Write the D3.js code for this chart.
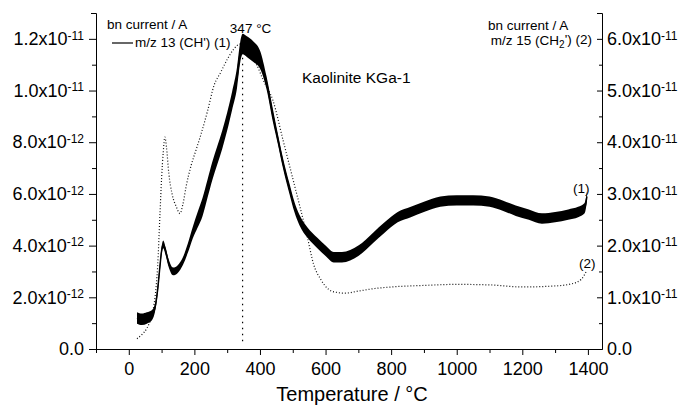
<!DOCTYPE html>
<html>
<head>
<meta charset="utf-8">
<script src="https://cdn.jsdelivr.net/npm/d3@7"></script>
<style>
  body { margin: 0; background: #fff; }
  text { font-family: "Liberation Sans", Arial, sans-serif; fill: #000; }
</style>
</head>
<body>
<svg id="chart" width="683" height="406"></svg>
<script>
// m/z 13 (CH') ion current, left axis, in units of 1e-12 A
const temps13 = [25, 40, 55, 70, 80, 88, 95, 100, 105, 112, 122, 135, 150, 165, 180, 195, 210, 225, 240, 255,
  270, 285, 300, 315, 330, 340, 347, 360, 380, 400, 420, 440, 455, 470, 490, 505, 520, 545, 575, 600,
  625, 650, 700, 745, 780, 820, 860, 900, 950, 1000, 1050, 1100, 1140, 1180, 1220, 1260, 1300, 1340, 1370, 1390, 1397];
const m13 = [1.2, 1.15, 1.2, 1.3, 1.6, 2.3, 3.2, 3.8, 4.05, 3.8, 3.3, 3.0, 3.1, 3.4, 3.9, 4.5, 5.0, 5.5, 6.2, 6.9,
  7.5, 8.1, 8.8, 9.6, 10.5, 11.5, 11.8, 11.7, 11.5, 11.2, 10.3, 9.0, 8.1, 7.2, 6.2, 5.5, 5.0, 4.5, 4.1, 3.8,
  3.55, 3.55, 3.8, 4.3, 4.7, 5.1, 5.3, 5.5, 5.7, 5.75, 5.75, 5.7, 5.55, 5.35, 5.2, 5.05, 5.1, 5.2, 5.3, 5.45, 5.9];
// half width of the noise band seen around the m/z 13 trace
const m13Noise = [0.22, 0.22, 0.22, 0.2, 0.15, 0.15, 0.15, 0.15, 0.15, 0.15, 0.15, 0.15, 0.15, 0.15, 0.18, 0.22, 0.3, 0.35, 0.35, 0.35,
  0.35, 0.35, 0.35, 0.35, 0.4, 0.4, 0.4, 0.4, 0.4, 0.35, 0.25, 0.25, 0.2, 0.2, 0.2, 0.2, 0.2, 0.2, 0.2, 0.2,
  0.2, 0.2, 0.2, 0.2, 0.2, 0.2, 0.2, 0.2, 0.2, 0.2, 0.2, 0.2, 0.2, 0.2, 0.2, 0.2, 0.2, 0.2, 0.2, 0.2, 0.2];

// m/z 15 (CH2') ion current, right axis, in units of 1e-11 A
const temps15 = [25, 40, 55, 70, 80, 88, 95, 100, 105, 110, 115, 122, 132, 145, 156, 165, 175, 190, 205, 220,
  240, 260, 280, 300, 320, 340, 355, 370, 390, 410, 440, 470, 500, 522, 545, 563, 585, 610, 630, 660,
  700, 750, 800, 900, 1000, 1100, 1200, 1300, 1350, 1380, 1395];
const m15 = [0.2, 0.28, 0.4, 0.65, 1.0, 1.6, 2.6, 3.3, 3.8, 4.1, 3.9, 3.4, 3.0, 2.75, 2.62, 2.8, 3.15, 3.55, 3.85, 4.15,
  4.6, 5.1, 5.35, 5.6, 5.8, 5.9, 5.8, 5.7, 5.5, 5.2, 4.8, 4.05, 3.3, 2.75, 2.15, 1.65, 1.35, 1.15, 1.1, 1.08,
  1.12, 1.17, 1.2, 1.23, 1.25, 1.24, 1.2, 1.22, 1.26, 1.35, 1.5];

const xTicks = [0, 200, 400, 600, 800, 1000, 1200, 1400];
const xMinor = [-100, 100, 300, 500, 700, 900, 1100, 1300];
const leftTicks = [0, 2, 4, 6, 8, 10, 12];          // x1e-12
const leftMinor = [1, 3, 5, 7, 9, 11];
const rightTicks = [0, 1, 2, 3, 4, 5, 6];           // x1e-11
const rightMinor = [0.5, 1.5, 2.5, 3.5, 4.5, 5.5];
const peakT = 347;

const svg = d3.select("#chart");
const margin = { left: 96, right: 81, top: 13, bottom: 57 };
const W = 683, H = 406;

const x = d3.scaleLinear().domain([-100, 1443]).range([margin.left, W - margin.right]);
const yL = d3.scaleLinear().domain([0, 13]).range([H - margin.bottom, margin.top]);
const yR = d3.scaleLinear().domain([0, 6.5]).range([H - margin.bottom, margin.top]);

// scientific label like 1.2x10^-11
function sciLabel(sel, baseExp) {
  sel.each(function (v) {
    const t = d3.select(this).text("");
    if (v === 0) { t.text("0.0"); return; }
    const e = Math.floor(Math.log10(v) + 1e-9);
    const mant = v / Math.pow(10, e);
    t.append("tspan").text(mant.toFixed(1) + "x10");
    t.append("tspan").attr("dy", "-0.45em").attr("font-size", "12px").text(String(e + baseExp));
  });
}

// x axis
const gx = svg.append("g").attr("transform", `translate(0,${H - margin.bottom})`);
gx.call(d3.axisBottom(x).tickValues(xTicks).tickFormat(d3.format("d"))
  .tickSize(6).tickSizeOuter(0).tickPadding(7));
gx.selectAll(".tick text").attr("font-size", "18px").attr("font-family", null);
gx.append("g").call(d3.axisBottom(x).tickValues(xMinor).tickSize(4).tickFormat(""))
  .select(".domain").remove();

// left axis
const gl = svg.append("g").attr("transform", `translate(${margin.left},0)`);
gl.call(d3.axisLeft(yL).tickValues(leftTicks).tickSize(7).tickSizeOuter(5).tickPadding(5));
gl.selectAll(".tick text").attr("font-size", "18px").attr("font-family", null).call(sciLabel, -12);
gl.append("g").call(d3.axisLeft(yL).tickValues(leftMinor).tickSize(4).tickFormat(""))
  .select(".domain").remove();

// right axis, ticks pointing inwards
const gr = svg.append("g").attr("transform", `translate(${W - margin.right},0)`);
gr.call(d3.axisRight(yR).tickValues(rightTicks).tickSizeInner(-5).tickSizeOuter(-5).tickPadding(5));
gr.selectAll(".tick text").attr("font-size", "18px").attr("font-family", null).call(sciLabel, -11);
gr.append("g").call(d3.axisRight(yR).tickValues(rightMinor).tickSize(-3).tickFormat(""))
  .select(".domain").remove();

svg.selectAll(".domain, .tick line").attr("stroke", "#000").attr("stroke-width", 1);

// vertical marker at the maximum
svg.append("line")
  .attr("x1", x(peakT)).attr("x2", x(peakT))
  .attr("y1", yL(0.3)).attr("y2", yL(12.1))
  .attr("stroke", "#000").attr("stroke-width", 1.2)
  .attr("stroke-dasharray", "1.5 4.5");

// m/z 15 dotted trace
const d15 = temps15.map((t, i) => ({ t: t, v: m15[i] }));
svg.append("path").datum(d15)
  .attr("fill", "none").attr("stroke", "#111").attr("stroke-width", 1.2)
  .attr("stroke-dasharray", "1 2")
  .attr("d", d3.line().x(d => x(d.t)).y(d => yR(d.v)).curve(d3.curveMonotoneX));

// m/z 13 noisy trace: band plus centre line
const d13 = temps13.map((t, i) => ({ t: t, v: m13[i], n: m13Noise[i] }));
svg.append("path").datum(d13)
  .attr("fill", "#000")
  .attr("d", d3.area().x(d => x(d.t)).y0(d => yL(d.v - d.n)).y1(d => yL(d.v + d.n)).curve(d3.curveMonotoneX));
svg.append("path").datum(d13)
  .attr("fill", "none").attr("stroke", "#000").attr("stroke-width", 1.5)
  .attr("d", d3.line().x(d => x(d.t)).y(d => yL(d.v)).curve(d3.curveMonotoneX));

// labels
svg.append("text").attr("x", (margin.left + W - margin.right) / 2 + 3).attr("y", 401)
  .attr("text-anchor", "middle").attr("font-size", "20px").text("Temperature / °C");

svg.append("text").attr("x", 107).attr("y", 29).attr("font-size", "13.5px").text("bn current / A");
svg.append("line").attr("x1", 112).attr("x2", 133).attr("y1", 43).attr("y2", 43)
  .attr("stroke", "#000").attr("stroke-width", 1.2);
svg.append("text").attr("x", 135).attr("y", 47).attr("font-size", "13.5px").text("m/z 13 (CH') (1)");

svg.append("text").attr("x", 488).attr("y", 30).attr("font-size", "13.5px").text("bn current / A");
const t15 = svg.append("text").attr("x", 592).attr("y", 45).attr("text-anchor", "end").attr("font-size", "13.5px");
t15.append("tspan").text("m/z 15 (CH");
t15.append("tspan").attr("dy", "0.3em").attr("font-size", "10px").text("2");
t15.append("tspan").attr("dy", "-0.3em").text("') (2)");

svg.append("text").attr("x", x(peakT) + 8).attr("y", 33).attr("text-anchor", "middle")
  .attr("font-size", "13.5px").text("347 °C");
svg.append("text").attr("x", 302).attr("y", 83).attr("font-size", "15.5px").text("Kaolinite KGa-1");
svg.append("text").attr("x", 573).attr("y", 193).attr("font-size", "13.5px").text("(1)");
svg.append("text").attr("x", 579).attr("y", 268).attr("font-size", "13.5px").text("(2)");
</script>
</body>
</html>
